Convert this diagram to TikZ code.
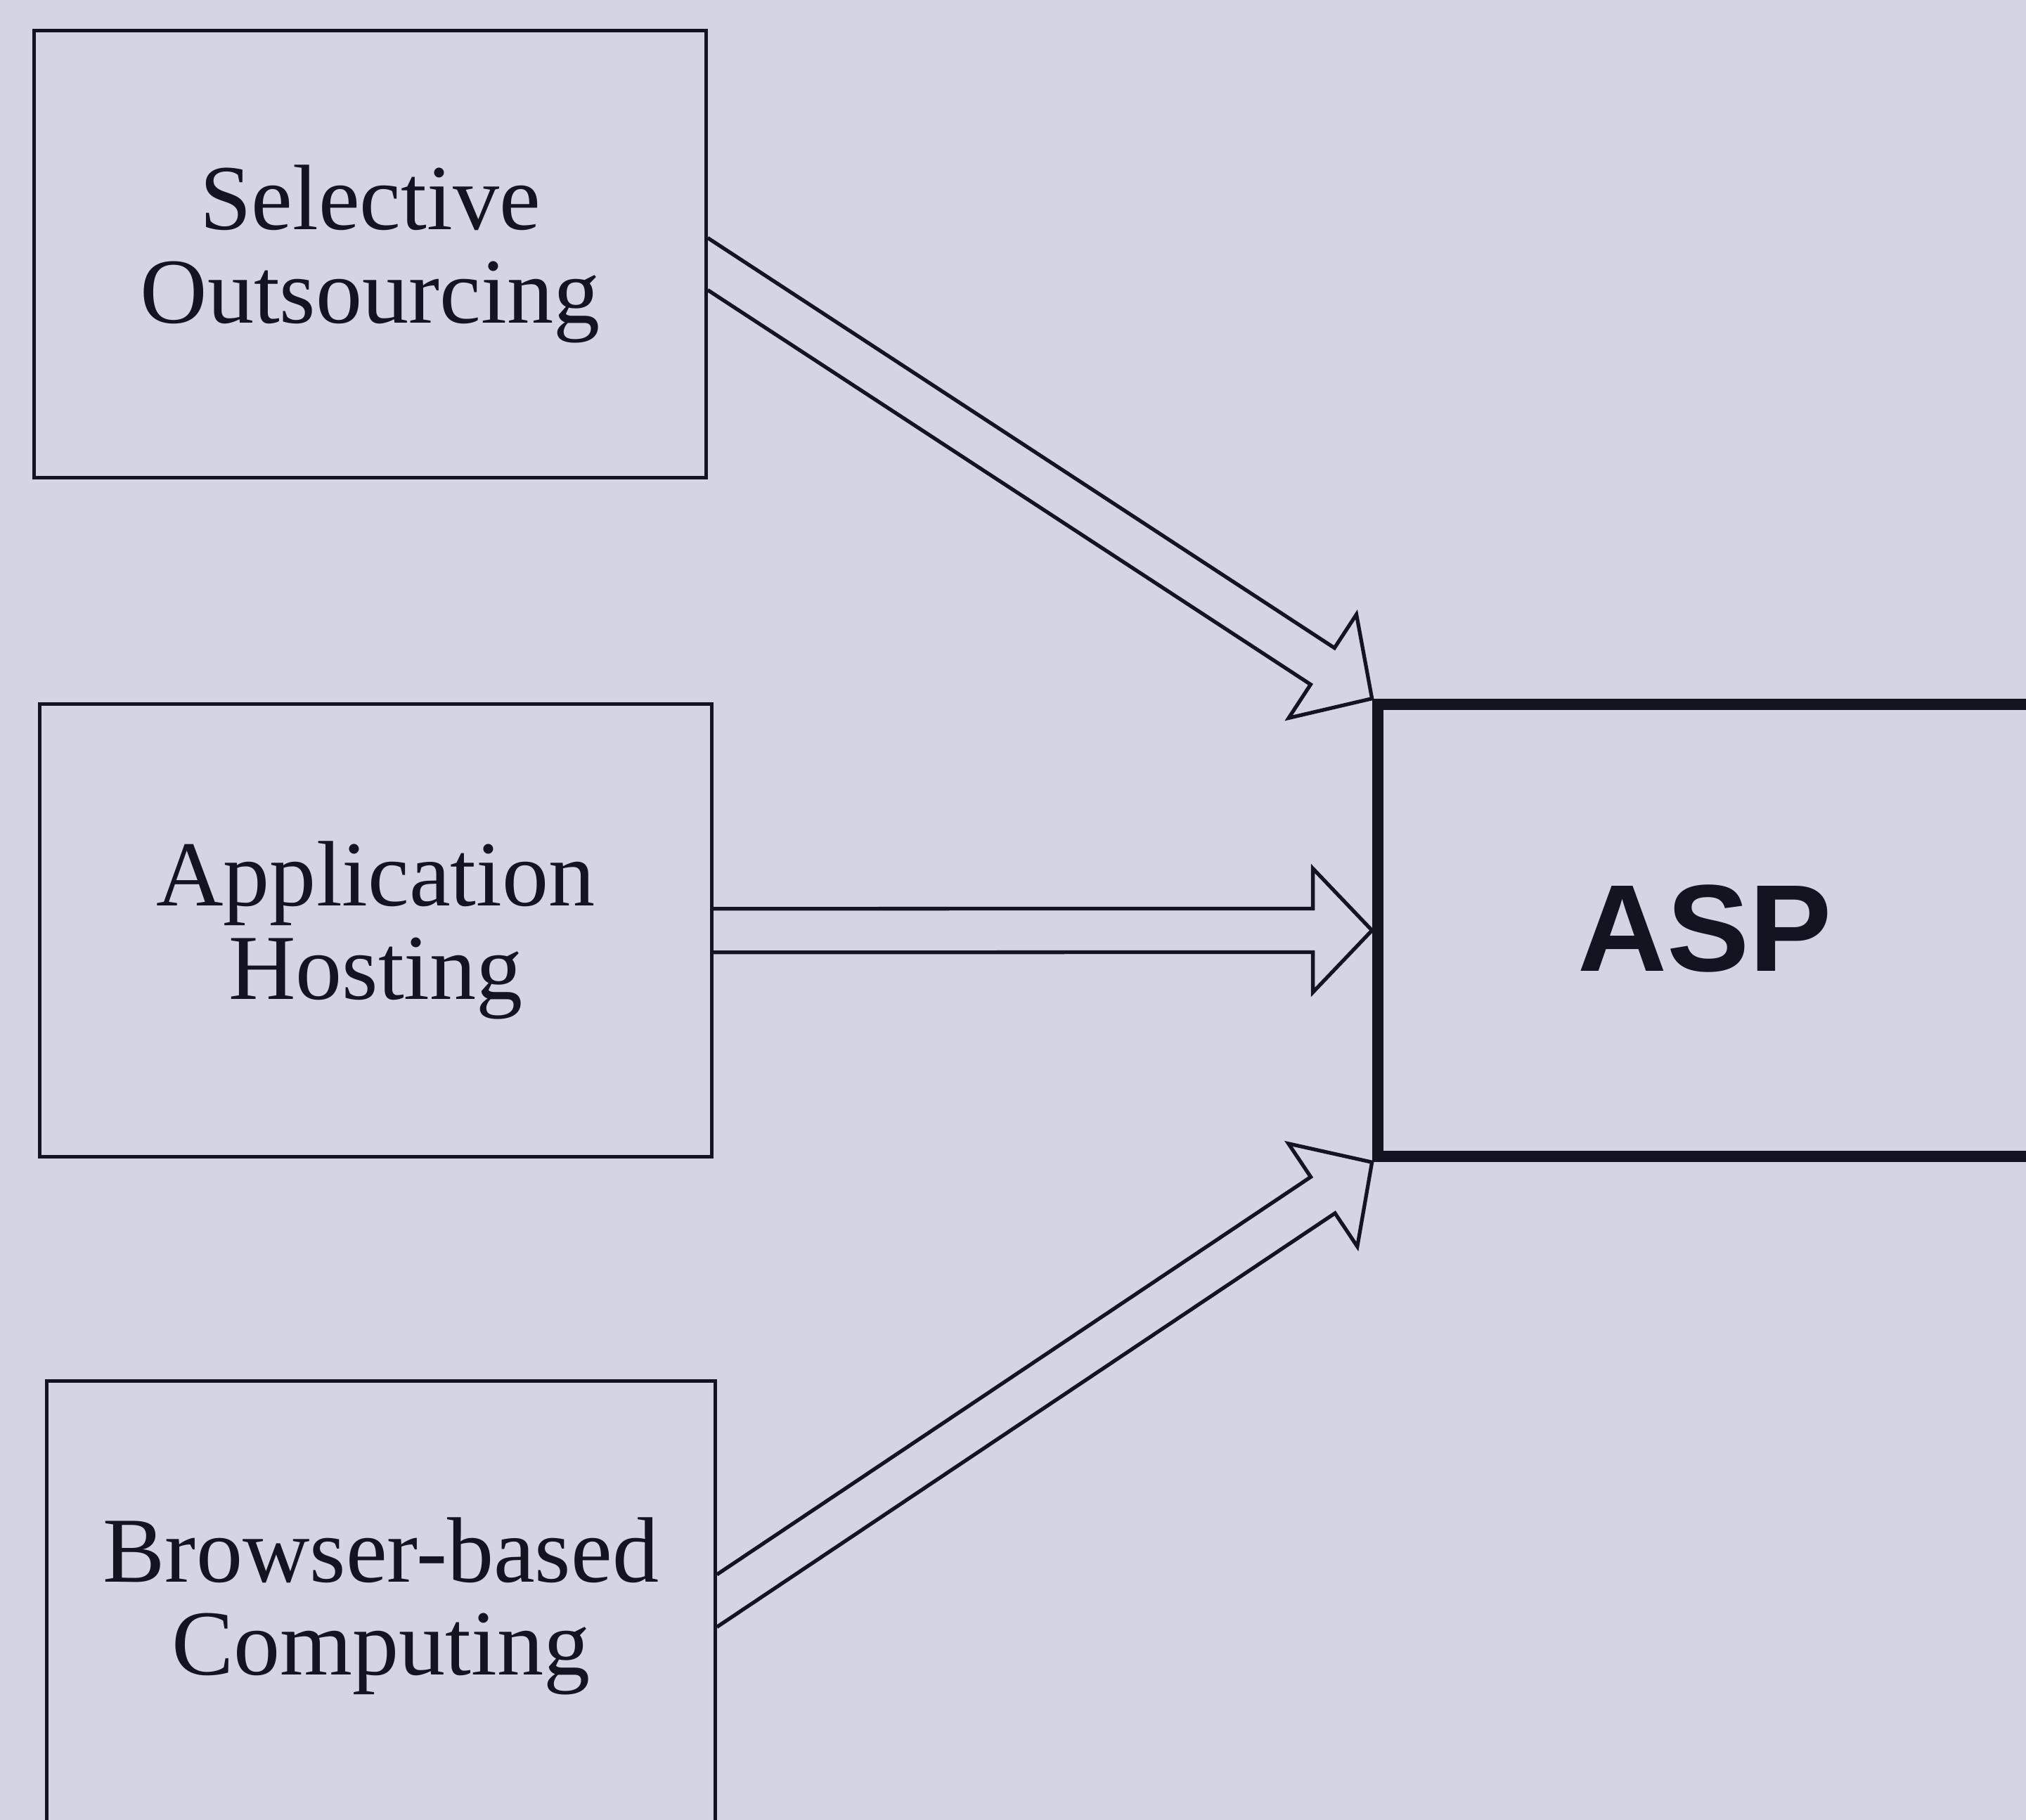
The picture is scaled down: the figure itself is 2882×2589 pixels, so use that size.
\documentclass[tikz,border=0pt]{standalone}
\usepackage{fontspec}
\setmainfont{Liberation Serif}
\newfontfamily\aspfont{Liberation Sans}
\usetikzlibrary{calc}
\definecolor{bg}{RGB}{211,214,226}
\definecolor{ink}{RGB}{20,20,32}
\def\arrSW{0.31cm}
\def\arrHW{0.88cm}
\def\arrHL{0.84cm}
% #1 tail, #2 tip, #3/#4 the side of the source box on which the tail sits
\newcommand\blockarrow[4]{%
  \coordinate (ba) at ($(#2)!\arrHL!(#1)$);
  \coordinate (u0) at ($(#1)!\arrSW!90:(#2)$);
  \coordinate (l0) at ($(#1)!\arrSW!-90:(#2)$);
  \coordinate (u1) at ($(ba)!\arrSW!90:(#2)$);
  \coordinate (l1) at ($(ba)!\arrSW!-90:(#2)$);
  \coordinate (u2) at ($(ba)!\arrHW!90:(#2)$);
  \coordinate (l2) at ($(ba)!\arrHW!-90:(#2)$);
  \coordinate (us) at (intersection of u0--u1 and #3--#4);
  \coordinate (ls) at (intersection of l0--l1 and #3--#4);
  \draw[arrowline] (us) -- (u1) -- (u2) -- (#2) -- (l2) -- (l1) -- (ls);
}
\begin{document}
\begin{tikzpicture}[x=0.01cm,y=-0.01cm,
  srcbox/.style={draw=ink,line width=1.4pt,minimum width=9.55cm,minimum height=6.4cm,
    inner sep=0pt,align=center,text=ink,font=\fontsize{37.6pt}{37.6pt}\selectfont},
  aspbox/.style={draw=ink,line width=4.6pt,minimum width=9.3cm,minimum height=6.43cm,
    inner sep=0pt,text=ink,font=\aspfont\bfseries\fontsize{50pt}{50pt}\selectfont},
  arrowline/.style={draw=ink,line width=1.5pt,line join=miter}]
\fill[bg] (0,0) rectangle (2882,2589);
\useasboundingbox (0,0) rectangle (2882,2589);
\clip (0,0) rectangle (2882,2589);

\node[srcbox,minimum height=6.35cm] (sel) at (526.5,361.5) {Selective\\Outsourcing};
\node[srcbox,minimum height=6.43cm] (app) at (534.5,1323.5) {Application\\Hosting};
\node[srcbox,minimum width=9.5cm] (brw) at (542,2285) {Browser-based\\Computing};
\node[aspbox] (asp) at (2425,1323.5) {\raisebox{0.06cm}{ASP}};

\coordinate (t1) at ($(sel.east)+(0,14)$);
\coordinate (t2) at (app.east);
\coordinate (t3) at ($(brw.east)+(0,-8)$);

\blockarrow{t1}{asp.north west}{sel.north east}{sel.south east}
\blockarrow{t2}{asp.west}{app.north east}{app.south east}
\blockarrow{t3}{asp.south west}{brw.north east}{brw.south east}
\end{tikzpicture}
\end{document}
